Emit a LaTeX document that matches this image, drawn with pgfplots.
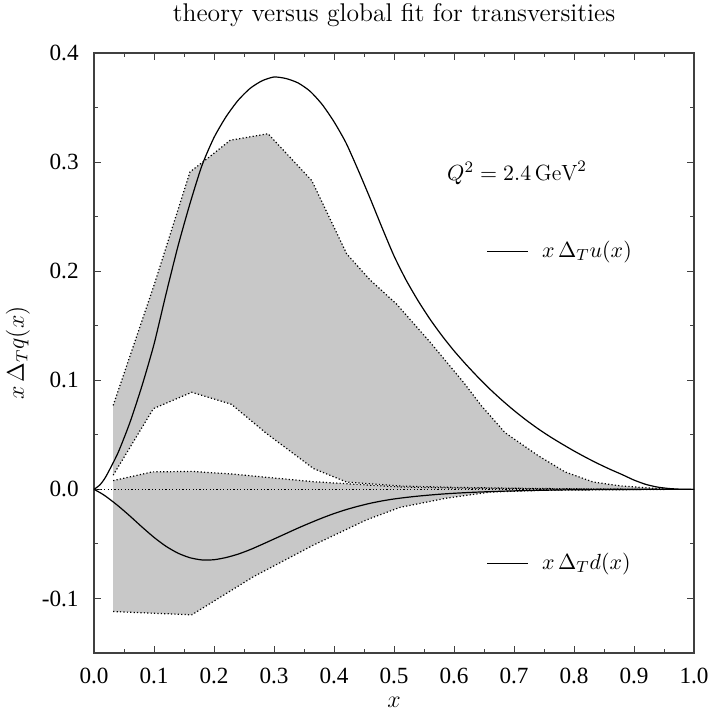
\documentclass[border=0pt]{standalone}
\usepackage{fontspec}
\usepackage{pgfplots}
\usepackage{pgfplotstable}
\pgfplotsset{compat=1.18}
\usepgfplotslibrary{fillbetween}
\newfontfamily\tnr{Liberation Serif}
\definecolor{band}{HTML}{C8C8C8}

% upper band (u quark fit)
\pgfplotstableread{
x y
0.032 0.077
0.10 0.187
0.160 0.291
0.193 0.305
0.227 0.320
0.290 0.326
0.363 0.283
0.421 0.216
0.460 0.192
0.504 0.170
0.560 0.135
0.616 0.098
0.645 0.077
0.685 0.052
0.740 0.031
0.785 0.016
0.832 0.0067
0.880 0.0030
0.921 0.0015
0.960 0.0
}\uup
\pgfplotstableread{
x y
0.032 0.013
0.099 0.074
0.163 0.089
0.229 0.078
0.288 0.051
0.366 0.019
0.421 0.0067
0.510 0.0030
0.600 0.0018
0.700 0.0010
0.800 0.0005
0.960 0.0
}\ulo
% lower band (d quark fit)
\pgfplotstableread{
x y
0.032 0.008
0.097 0.016
0.163 0.0165
0.231 0.014
0.366 0.007
0.510 0.0022
0.600 0.0012
0.800 0.0003
0.960 0.0
}\dup
\pgfplotstableread{
x y
0.032 -0.112
0.163 -0.115
0.266 -0.080
0.366 -0.051
0.454 -0.028
0.510 -0.0165
0.588 -0.008
0.660 -0.0025
0.750 -0.0008
0.960 0.0
}\dlo
% theory curves
\pgfplotstableread{
x u d
0.00 0.0 0.0
0.01 0.0042 -0.0030
0.02 0.0119 -0.0065
0.04 0.0335 -0.0150
0.06 0.0615 -0.0245
0.08 0.095 -0.0345
0.10 0.133 -0.0440
0.12 0.179 -0.0522
0.14 0.223 -0.0585
0.16 0.262 -0.0627
0.18 0.297 -0.0647
0.20 0.3225 -0.0645
0.22 0.3415 -0.0625
0.24 0.3565 -0.0594
0.26 0.3675 -0.0553
0.28 0.3745 -0.0505
0.30 0.378 -0.0455
0.32 0.3766 -0.0405
0.34 0.3726 -0.0355
0.36 0.365 -0.0308
0.38 0.353 -0.0263
0.40 0.337 -0.0222
0.42 0.3176 -0.0186
0.44 0.293 -0.0155
0.46 0.267 -0.0128
0.48 0.240 -0.0106
0.50 0.214 -0.0088
0.52 0.192 -0.0074
0.54 0.173 -0.0062
0.56 0.156 -0.0052
0.58 0.1408 -0.0043
0.60 0.127 -0.0036
0.62 0.1145 -0.0030
0.64 0.1028 -0.0025
0.66 0.0918 -0.0021
0.68 0.0817 -0.0017
0.70 0.0723 -0.0014
0.72 0.0636 -0.0011
0.74 0.0556 -0.0009
0.76 0.0483 -0.0007
0.78 0.0416 -0.0005
0.80 0.0352 -0.0004
0.82 0.0292 -0.0003
0.84 0.0236 -0.0002
0.86 0.0184 -0.0002
0.88 0.0136 -0.0001
0.90 0.0085 -0.0001
0.92 0.0045 0.0
0.94 0.0020 0.0
0.96 0.0007 0.0
0.98 0.0001 0.0
1.00 0.0 0.0
}\theory

\begin{document}
\begin{tikzpicture}
  \begin{axis}[
    name=ax,
    width=300pt, height=300pt,
    scale only axis,
    xmin=0, xmax=1,
    ymin=-0.15, ymax=0.4,
    xtick={0,0.1,0.2,0.3,0.4,0.5,0.6,0.7,0.8,0.9,1.0},
    xticklabels={0.0,0.1,0.2,0.3,0.4,0.5,0.6,0.7,0.8,0.9,1.0},
    ytick={-0.1,0,0.1,0.2,0.3,0.4},
    yticklabels={-0.1,0.0,0.1,0.2,0.3,0.4},
    minor tick num=1,
    major tick length=3.5pt,
    minor tick length=2pt,
    tick align=inside,
    axis line style={black!75, line width=0.6pt},
    every tick/.style={black!75, line width=0.5pt},
    xticklabel style={font=\tnr\fontsize{11.6}{13}\selectfont, anchor=center, yshift=-11.5pt},
    yticklabel style={font=\tnr\fontsize{11.6}{13}\selectfont, anchor=east, inner sep=0pt, xshift=-7.5pt},
    xlabel={$x$},
    ylabel={$x\,\Delta_T q(x)$},
    label style={font=\fontsize{11.5}{13}\selectfont},
    xlabel style={at={(axis description cs:0.5,-0.083)}, anchor=center},
    ylabel style={at={(axis description cs:-0.127,0.5)}, anchor=center},
    title={theory versus global fit for transversities},
    every axis title shift=0pt,
    title style={font=\fontsize{12.8}{14}\selectfont, at={(axis description cs:0.5,1.063)}, anchor=center},
    clip=false,
  ]
    \addplot[draw=none, name path=uup, forget plot] table {\uup};
    \addplot[draw=none, name path=ulo, forget plot] table {\ulo};
    \addplot[draw=none, name path=dup, forget plot] table {\dup};
    \addplot[draw=none, name path=dlo, forget plot] table {\dlo};
    \addplot[band, draw=none] fill between[of=uup and ulo];
    \addplot[band, draw=none] fill between[of=dup and dlo];

    \pgfplotsset{edge/.style={black, line width=0.6pt, dash pattern=on 0.6pt off 1.1pt}}
    \addplot[edge] table {\uup};
    \addplot[edge] table {\ulo};
    \addplot[edge] table {\dup};
    \addplot[edge] table {\dlo};
    \addplot[edge] coordinates {(0,0) (1,0)};

    \addplot[black, line width=0.6pt, smooth, tension=0.4] table[x=x, y=u] {\theory};
    \addplot[black, line width=0.6pt, smooth, tension=0.4] table[x=x, y=d] {\theory};

    \node[anchor=west, inner sep=0pt, font=\fontsize{11}{13}\selectfont]
      at (axis cs:0.588,0.29) {$Q^2=2.4\,\mathrm{GeV}^2$};
    \draw[black, line width=0.6pt] (axis cs:0.655,0.218) -- (axis cs:0.724,0.218);
    \node[anchor=west, inner sep=0pt, font=\fontsize{11}{13}\selectfont]
      at (axis cs:0.746,0.218) {$x\,\Delta_T u(x)$};
    \draw[black, line width=0.6pt] (axis cs:0.655,-0.068) -- (axis cs:0.724,-0.068);
    \node[anchor=west, inner sep=0pt, font=\fontsize{11}{13}\selectfont]
      at (axis cs:0.746,-0.068) {$x\,\Delta_T d(x)$};
  \end{axis}
  \pgfresetboundingbox
  \path[use as bounding box] ([xshift=-47pt,yshift=-33pt]ax.south west)
    rectangle ([xshift=7.5pt,yshift=26.5pt]ax.north east);
\end{tikzpicture}
\end{document}
